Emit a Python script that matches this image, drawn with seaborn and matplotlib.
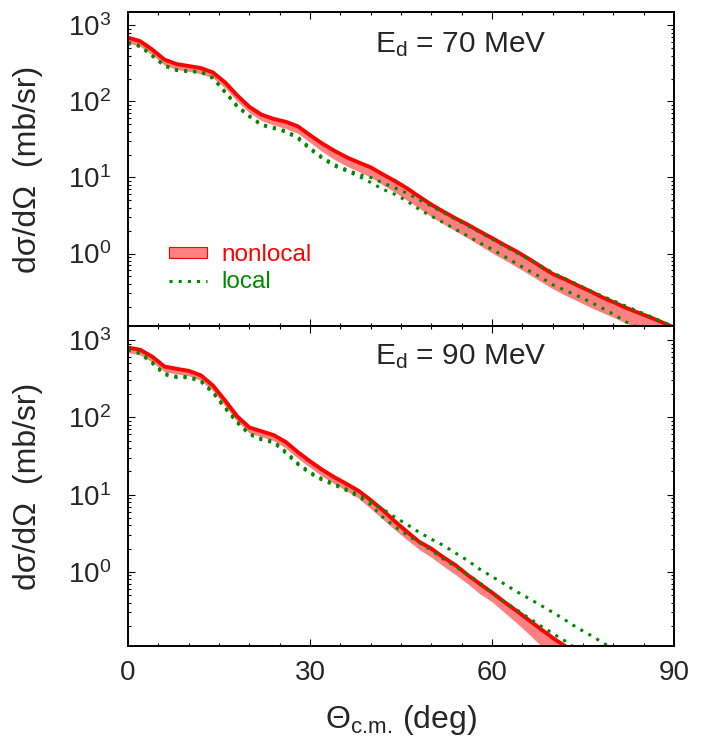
import matplotlib
matplotlib.use('Agg')
import matplotlib.pyplot as plt
from matplotlib.patches import Patch
from matplotlib.lines import Line2D
from matplotlib.ticker import MultipleLocator, LogLocator, NullFormatter
import seaborn as sns

# scattering angle grid (deg)
theta = [0, 2, 4, 6, 8, 10, 12, 14, 16, 18, 20, 22, 24, 26, 28, 30, 32, 34, 36, 38,
         40, 42, 44, 46, 48, 50, 52, 54, 56, 58, 60, 62, 64, 66, 68, 70, 72, 74, 76, 78,
         80, 82, 84, 86, 88, 90]

# E_d = 70 MeV
nl70_hi = [690, 620, 480, 355, 310, 292, 275, 240, 178, 120, 85, 67, 59, 54, 47, 36, 28, 22.5, 18.5, 15.8,
           13.6, 11.0, 9.0, 7.2, 5.6, 4.4, 3.55, 2.9, 2.4, 1.95, 1.6, 1.3, 1.07, 0.86, 0.68, 0.54, 0.46, 0.385, 0.325, 0.27,
           0.23, 0.195, 0.168, 0.146, 0.125, 0.107]
nl70_lo = [585, 530, 410, 300, 262, 248, 232, 203, 150, 100, 71, 56, 49, 44, 38, 29, 22, 17.3, 14.2, 12.0,
           10.1, 8.0, 6.4, 5.0, 3.95, 3.05, 2.45, 1.97, 1.6, 1.28, 1.02, 0.83, 0.67, 0.54, 0.43, 0.345, 0.285, 0.24, 0.2, 0.17,
           0.145, 0.123, 0.105, 0.09, 0.078, 0.068]
lo70_a = [600, 540, 405, 300, 262, 252, 248, 205, 135, 88, 65, 50, 45.5, 41, 34, 24.5, 18.5, 14.8, 12.7, 11.0,
          10.0, 8.5, 7.3, 6.2, 5.1, 4.2, 3.45, 2.82, 2.32, 1.9, 1.55, 1.26, 1.03, 0.85, 0.69, 0.56, 0.47, 0.395, 0.33, 0.28,
          0.24, 0.205, 0.175, 0.15, 0.128, 0.108]
lo70_b = [580, 525, 395, 292, 255, 246, 242, 200, 131, 85, 63, 48.5, 44, 39.5, 32.5, 23.5, 17.8, 14.2, 12.2, 10.4,
          8.6, 7.0, 6.0, 4.9, 3.8, 3.1, 2.55, 2.08, 1.7, 1.38, 1.14, 0.92, 0.74, 0.6, 0.49, 0.39, 0.33, 0.28, 0.235, 0.195,
          0.16, 0.127, 0.107, 0.09, 0.077, 0.066]

# E_d = 90 MeV
nl90_hi = [800, 750, 610, 455, 425, 400, 350, 258, 165, 103, 74, 66, 59, 48, 35.5, 27, 21, 16.8, 13.8, 11.2,
           8.5, 6.3, 4.5, 3.3, 2.45, 2.0, 1.54, 1.22, 0.91, 0.7, 0.54, 0.41, 0.315, 0.24, 0.183, 0.14, 0.11, 0.084, 0.064, 0.05,
           0.038, 0.03, 0.023, 0.018, 0.014, 0.011]
nl90_lo = [690, 640, 520, 390, 365, 345, 300, 220, 140, 88, 63, 56, 50, 40, 29.5, 22.5, 17.3, 13.8, 11.2, 9.0,
           6.6, 4.8, 3.5, 2.6, 1.95, 1.55, 1.18, 0.92, 0.7, 0.52, 0.41, 0.3, 0.22, 0.158, 0.112, 0.08, 0.058, 0.043, 0.032, 0.024,
           0.018, 0.014, 0.011, 0.0085, 0.0065, 0.005]
lo90_a = [770, 690, 520, 370, 340, 337, 300, 215, 135, 88, 62, 53, 49, 36, 25.5, 19.5, 16, 13.8, 11.8, 9.9,
          8.2, 6.5, 5.1, 4.1, 3.25, 2.65, 2.2, 1.75, 1.4, 1.08, 0.87, 0.7, 0.56, 0.456, 0.37, 0.3, 0.24, 0.19, 0.155, 0.125,
          0.1, 0.08, 0.065, 0.052, 0.042, 0.034]
lo90_b = [745, 665, 500, 357, 328, 325, 290, 207, 130, 85, 60, 51, 47, 34.5, 24.5, 18.8, 15.4, 13.3, 11.3, 9.4,
          7.4, 5.1, 3.85, 3.0, 2.4, 1.9, 1.46, 1.17, 0.92, 0.72, 0.53, 0.415, 0.325, 0.255, 0.2, 0.16, 0.128, 0.1, 0.08, 0.064,
          0.05, 0.04, 0.032, 0.025, 0.02, 0.016]

energies = ['70', '90']

red = '#ff0000'
pink = '#ff8080'
green = '#008a00'
dots = (0, (1, 2))

sns.set_theme(style='ticks')
plt.rcParams['font.family'] = ['Liberation Sans', 'DejaVu Sans']
plt.rcParams['mathtext.fontset'] = 'custom'
plt.rcParams['mathtext.rm'] = 'Liberation Sans'
plt.rcParams['mathtext.it'] = 'Liberation Sans:italic'
plt.rcParams['mathtext.bf'] = 'Liberation Sans:bold'

fig = plt.figure(figsize=(7.05, 7.43), dpi=100)
ax1 = fig.add_axes([0.1816, 0.5606, 0.7745, 0.4233])
ax2 = fig.add_axes([0.1816, 0.1306, 0.7745, 0.4300])


def draw(ax, hi, lo, loc_a, loc_b, energy, text_y):
    ax.set_yscale('log')
    ax.fill_between(theta, lo, hi, color=pink, lw=0)
    sns.lineplot(x=theta, y=hi, ax=ax, color=red, lw=2.8)
    sns.lineplot(x=theta, y=loc_a, ax=ax, color=green, lw=2.2, linestyle=dots)
    sns.lineplot(x=theta, y=loc_b, ax=ax, color=green, lw=2.2, linestyle=dots)
    ax.set_xlim(0, 90)
    ax.set_ylim(0.11, 1500)
    ax.xaxis.set_major_locator(MultipleLocator(30))
    ax.xaxis.set_minor_locator(MultipleLocator(5))
    ax.yaxis.set_minor_locator(LogLocator(subs=range(2, 10)))
    ax.yaxis.set_minor_formatter(NullFormatter())
    ax.tick_params(which='both', direction='in', top=True, right=True, width=0.8, color='black')
    ax.tick_params(which='major', length=5, labelsize=20)
    ax.tick_params(axis='y', which='major', pad=12)
    ax.tick_params(axis='x', which='major', pad=10)
    ax.tick_params(which='minor', length=2.5)
    for s in ax.spines.values():
        s.set_linewidth(1.4)
        s.set_color('black')
    ax.set_ylabel('dσ/dΩ  (mb/sr)', fontsize=23)
    ax.yaxis.set_label_coords(-0.156, 0.5)
    ax.text(0.452, text_y, 'E$_{\\rm d}$ = ' + energy + ' MeV', transform=ax.transAxes,
            fontsize=21.5, ha='left', va='baseline')


draw(ax1, nl70_hi, nl70_lo, lo70_a, lo70_b, energies[0], 0.873)
draw(ax2, nl90_hi, nl90_lo, lo90_a, lo90_b, energies[1], 0.881)

ax1.tick_params(labelbottom=False)
ax1.set_xlabel('')
ax2.set_xlabel('Θ$_{\\text{c.m.}}$ (deg)', fontsize=23, labelpad=12)

# legend
handles = [Patch(facecolor=pink, edgecolor=red, lw=0.8),
           Line2D([], [], color=green, lw=2.2, linestyle=dots)]
ax1.legend(handles, ['nonlocal', 'local'], loc='upper left', bbox_to_anchor=(0.075, 0.262),
           frameon=False, fontsize=17.5, handlelength=1.55, handleheight=0.3, handletextpad=0.6,
           labelspacing=0.22, borderpad=0, borderaxespad=0, labelcolor=[red, green])

fig.savefig('out.png', dpi=100)
